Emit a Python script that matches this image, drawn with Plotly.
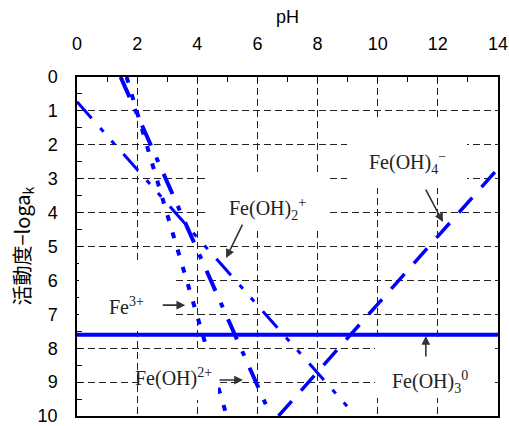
import plotly.graph_objects as go

# Activity (-log a) of dissolved Fe(III) species in equilibrium with Fe(OH)3, vs pH
ph_fe3 = [1.65, 4.98]
la_fe3 = [0.0, 10.0]

ph_feoh = [1.45, 6.45]          # Fe(OH)2+
la_feoh = [0.0, 10.0]

ph_feoh2 = [0.0, 9.27]          # Fe(OH)2+
la_feoh2 = [0.73, 10.0]

ph_feoh3 = [0.0, 14.0]          # Fe(OH)3 0
la_feoh3 = [7.6, 7.6]

ph_feoh4 = [6.7, 14.0]          # Fe(OH)4-
la_feoh4 = [10.0, 2.7]

x_ticks = [0, 2, 4, 6, 8, 10, 12, 14]
y_ticks = [0, 1, 2, 3, 4, 5, 6, 7, 8, 9, 10]

BLUE = "#0000FF"
INK = "#333333"
NUM_FONT = "Liberation Sans Narrow, Arial Narrow, Liberation Sans, Arial"
LABEL_FONT = "Liberation Serif, Times New Roman, serif"

fig = go.Figure()

# white text frames behind the species labels: (centre pH, centre -log a, w px, h px)
frames = [
    (1.61, 6.49, 93, 68),
    (3.36, 8.82, 80, 48),
    (6.34, 3.63, 119, 56),
    (10.97, 2.27, 120, 68),
    (11.9, 8.61, 120, 58),
]
for fx, fy, fw, fh in frames:
    fig.add_annotation(x=fx, y=fy, text=" ", showarrow=False,
                       xanchor="center", yanchor="middle",
                       width=fw, height=fh, bgcolor="white",
                       borderpad=0, borderwidth=0)

series = [
    (ph_feoh3, la_feoh3, "solid", 4),
    (ph_feoh4, la_feoh4, "20px,14px", 3.5),
    (ph_feoh2, la_feoh2, "22px,13px,5px,12px,5px,13px", 3),
    (ph_feoh, la_feoh, "22px,13px,5px,13px", 4),
    (ph_fe3, la_fe3, "6px,12px", 4),
]
for xs, ys, dash, w in series:
    fig.add_trace(go.Scatter(x=xs, y=ys, mode="lines",
                             line=dict(color=BLUE, width=w, dash=dash),
                             hoverinfo="skip", showlegend=False))

# species labels
labels = [
    ("Fe<sup>3+</sup>", 1.65, 6.75),
    ("Fe(OH)<sup>2+</sup>", 3.2, 8.85),
    ("Fe(OH)<sub>2</sub><sup>+</sup>", 6.35, 3.9),
    ("Fe(OH)<sub>4</sub><sup>−</sup>", 11.0, 2.55),
    ("Fe(OH)<sub>3</sub><sup>0</sup>", 11.75, 9.0),
]
for text, lx, ly in labels:
    fig.add_annotation(x=lx, y=ly, text=text, showarrow=False,
                       xanchor="center", yanchor="middle",
                       font=dict(family=LABEL_FONT, size=20, color="#222"))

# arrows: (head pH, head -log a, tail dx px, tail dy px)
arrows = [
    (3.6, 6.73, -24, 0),
    (5.52, 8.94, -25, 0),
    (4.96, 5.34, 17, -35),
    (12.17, 4.28, -18, -34),
    (11.6, 7.64, 0, 22),
]
for hx, hy, dx, dy in arrows:
    fig.add_annotation(x=hx, y=hy, ax=dx, ay=dy, text="", showarrow=True,
                       arrowhead=2, arrowsize=1.1, arrowwidth=1.6,
                       arrowcolor=INK)

fig.add_annotation(x=0.5, y=1, xref="paper", yref="paper", yshift=60,
                   xanchor="center", yanchor="middle",
                   text="pH", showarrow=False,
                   font=dict(family=NUM_FONT, size=18, color="black"))
fig.add_annotation(x=0, y=0.5, xref="paper", yref="paper", xshift=-55,
                   xanchor="center", yanchor="middle",
                   text="活動度−loga<sub>k</sub>", textangle=-90,
                   showarrow=False,
                   font=dict(family="Noto Sans CJK JP, Liberation Sans",
                             size=20, color="black"))

axis_common = dict(
    automargin=False,
    showline=True, linecolor="black", linewidth=1.5, mirror=True,
    showgrid=True, gridcolor="#222", gridwidth=1, griddash="7px,4px",
    zeroline=False, ticks="inside", ticklen=5, tickcolor="black",
    ticklabeloverflow="allow",
    tickfont=dict(family=NUM_FONT, size=18, color="black"),
)

fig.update_xaxes(range=[0, 14], side="top", tickvals=x_ticks,
                 minor=dict(dtick=1, ticks="inside", ticklen=5,
                            tickcolor="black", showgrid=False),
                 ticklabelstandoff=18, **axis_common)
fig.update_yaxes(range=[10, 0], tickvals=y_ticks,
                 minor=dict(dtick=0.5, ticks="inside", ticklen=5,
                            tickcolor="black", showgrid=False),
                 ticklabelstandoff=14, **axis_common)

fig.update_layout(width=509, height=426,
                  margin=dict(l=77, r=11, t=77, b=10, autoexpand=False),
                  paper_bgcolor="white", plot_bgcolor="white",
                  showlegend=False)

fig.write_html("out.html")
